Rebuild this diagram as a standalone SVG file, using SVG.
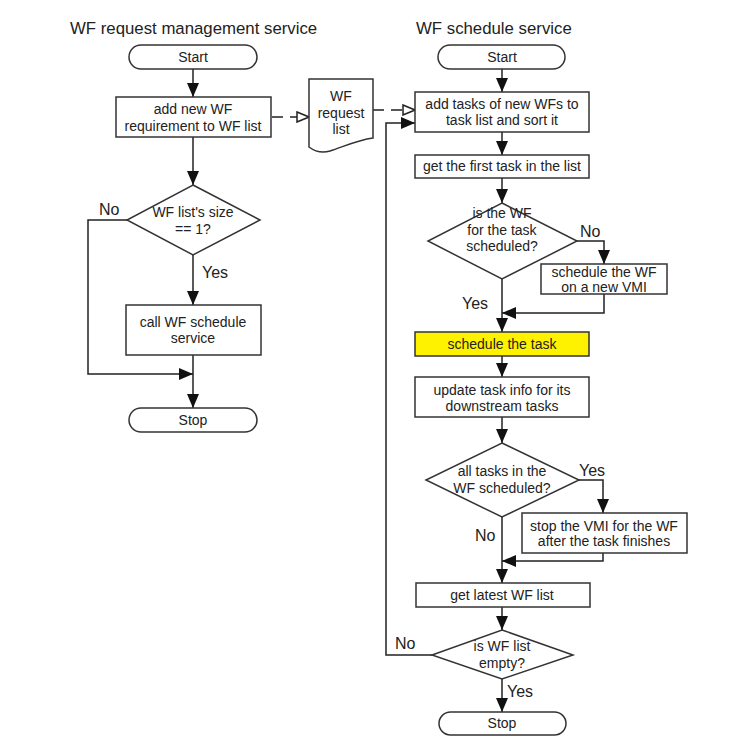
<svg xmlns="http://www.w3.org/2000/svg" width="750" height="750" viewBox="0 0 750 750">
<defs>
<style>
text{font-family:"Liberation Sans",Arial,sans-serif;fill:#222;text-anchor:middle}
.t{font-size:14px}
.h{font-size:16.8px;text-anchor:start}
.l{font-size:16px;text-anchor:start}
.s{fill:#fff;stroke:#333;stroke-width:1.5}
.y{fill:#fff200;stroke:#333;stroke-width:1.5}
.c{fill:none;stroke:#222;stroke-width:1.5}
.d{fill:none;stroke:#222;stroke-width:1.5;stroke-dasharray:11,7}
</style>
<marker id="a" markerUnits="userSpaceOnUse" markerWidth="14" markerHeight="12" refX="14" refY="6" orient="auto">
<path d="M0,0 L14,6 L0,12 z" fill="#111"/>
</marker>
<marker id="h" markerUnits="userSpaceOnUse" markerWidth="14" markerHeight="12" refX="13" refY="6" orient="auto">
<path d="M1,1 L13,6 L1,11 z" fill="#fff" stroke="#222" stroke-width="1.5"/>
</marker>
</defs>
<rect width="750" height="750" fill="#fff"/>
<text class="h" x="70" y="34">WF request management service</text>
<text class="h" x="416" y="34">WF schedule service</text>

<g id="connectors">
<line class="c" x1="193" y1="69" x2="193" y2="97" marker-end="url(#a)"/>
<line class="c" x1="193" y1="137" x2="193" y2="185" marker-end="url(#a)"/>
<line class="c" x1="193" y1="255" x2="193" y2="305" marker-end="url(#a)"/>
<line class="c" x1="193" y1="355" x2="193" y2="408" marker-end="url(#a)"/>
<polyline class="c" points="127,220 88,220 88,374 193,374" marker-end="url(#a)"/>
<line class="d" x1="272" y1="117" x2="309" y2="117" marker-end="url(#h)"/>
<line class="d" x1="373" y1="110" x2="415" y2="110" marker-end="url(#h)"/>
<line class="c" x1="502" y1="69" x2="502" y2="92" marker-end="url(#a)"/>
<line class="c" x1="502" y1="132" x2="502" y2="155" marker-end="url(#a)"/>
<line class="c" x1="502" y1="178" x2="502" y2="203" marker-end="url(#a)"/>
<polyline class="c" points="577,241 604,241 604,264" marker-end="url(#a)"/>
<polyline class="c" points="604,294 604,313 502,313" marker-end="url(#a)"/>
<line class="c" x1="502" y1="279" x2="502" y2="332" marker-end="url(#a)"/>
<line class="c" x1="502" y1="356" x2="502" y2="377" marker-end="url(#a)"/>
<line class="c" x1="502" y1="417" x2="502" y2="443" marker-end="url(#a)"/>
<polyline class="c" points="579,480 603,480 603,513" marker-end="url(#a)"/>
<polyline class="c" points="603,553 603,561 502,561" marker-end="url(#a)"/>
<line class="c" x1="502" y1="517" x2="502" y2="583" marker-end="url(#a)"/>
<line class="c" x1="502" y1="607" x2="502" y2="630" marker-end="url(#a)"/>
<polyline class="c" points="432,655 386,655 386,123 415,123" marker-end="url(#a)"/>
<line class="c" x1="502" y1="679" x2="502" y2="712" marker-end="url(#a)"/>
<text class="l" x="99" y="215">No</text>
<text class="l" x="202" y="278">Yes</text>
<text class="l" x="580" y="237">No</text>
<text class="l" x="462" y="309">Yes</text>
<text class="l" x="579" y="476">Yes</text>
<text class="l" x="475" y="541">No</text>
<text class="l" x="395" y="649">No</text>
<text class="l" x="507" y="697">Yes</text>
</g>

<g id="l_start"><rect class="s" x="129" y="45" width="128" height="24" rx="12"/><text class="t" x="193" y="62">Start</text></g>
<g id="l_add"><rect class="s" x="116" y="97" width="155" height="40"/><text class="t" x="193" y="114">add new WF</text><text class="t" x="193" y="131">requirement to WF list</text></g>
<g id="l_dec"><polygon class="s" points="193,185 260,220 193,255 127,220"/><text class="t" x="193" y="217">WF list's size</text><text class="t" x="193" y="234">== 1?</text></g>
<g id="l_call"><rect class="s" x="126" y="305" width="135" height="50"/><text class="t" x="193" y="327">call WF schedule</text><text class="t" x="193" y="343">service</text></g>
<g id="l_stop"><rect class="s" x="129" y="408" width="128" height="24" rx="12"/><text class="t" x="193" y="425">Stop</text></g>

<g id="doc"><path class="s" d="M309,79 L373,79 L373,138 C358,140 345,146 330,151 C320,154 313,150 309,147 Z"/><text class="t" x="341" y="101">WF</text><text class="t" x="341" y="118">request</text><text class="t" x="341" y="134">list</text></g>

<g id="r_start"><rect class="s" x="438" y="45" width="127" height="24" rx="12"/><text class="t" x="502" y="62">Start</text></g>
<g id="r_add"><rect class="s" x="415" y="92" width="174" height="40"/><text class="t" x="502" y="109">add tasks of new WFs to</text><text class="t" x="502" y="125">task list and sort it</text></g>
<g id="r_first"><rect class="s" x="415" y="155" width="174" height="23"/><text class="t" x="502" y="171">get the first task in the list</text></g>
<g id="r_dec1"><polygon class="s" points="502,203 577,241 502,279 428,241"/><text class="t" x="502" y="218">is the WF</text><text class="t" x="502" y="235">for the task</text><text class="t" x="502" y="251">scheduled?</text></g>
<g id="r_newvmi"><rect class="s" x="541" y="264" width="126" height="30"/><text class="t" x="604" y="277">schedule the WF</text><text class="t" x="604" y="292">on a new VMI</text></g>
<g id="r_task"><rect class="y" x="415" y="332" width="174" height="24"/><text class="t" x="502" y="349">schedule the task</text></g>
<g id="r_update"><rect class="s" x="415" y="377" width="174" height="40"/><text class="t" x="502" y="395">update task info for its</text><text class="t" x="502" y="411">downstream tasks</text></g>
<g id="r_dec2"><polygon class="s" points="502,443 579,480 502,517 426,480"/><text class="t" x="502" y="476">all tasks in the</text><text class="t" x="502" y="493">WF scheduled?</text></g>
<g id="r_stopvmi"><rect class="s" x="522" y="513" width="165" height="40"/><text class="t" x="604" y="531">stop the VMI for the WF</text><text class="t" x="604" y="546">after the task finishes</text></g>
<g id="r_latest"><rect class="s" x="416" y="583" width="174" height="24"/><text class="t" x="502" y="600">get latest WF list</text></g>
<g id="r_dec3"><polygon class="s" points="502,630 573,655 502,679 432,655"/><text class="t" x="502" y="651">is WF list</text><text class="t" x="502" y="668">empty?</text></g>
<g id="r_stop"><rect class="s" x="439" y="712" width="127" height="23" rx="11.5"/><text class="t" x="502" y="728">Stop</text></g>
</svg>
